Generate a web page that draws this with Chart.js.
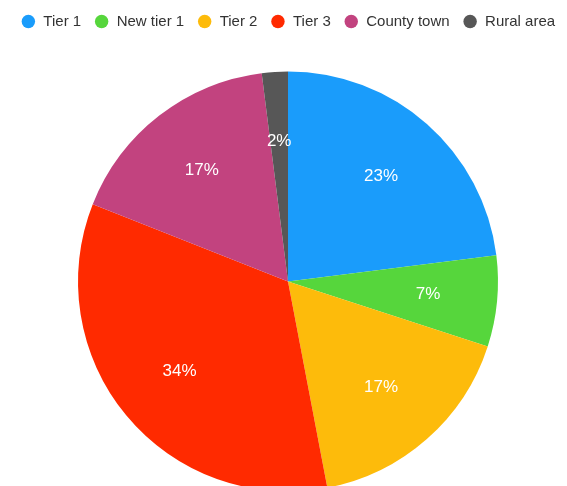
<!DOCTYPE html>
<html>
<head>
<meta charset="utf-8">
<script src="https://cdn.jsdelivr.net/npm/chart.js@4/dist/chart.umd.min.js"></script>
<style>
  html, body { margin: 0; padding: 0; background: #fff; overflow: hidden; }
  #wrap { width: 576px; height: 540px; position: relative; }
</style>
</head>
<body>
<div id="wrap"><canvas id="pie-chart"></canvas></div>
<script>
const categories = ["Tier 1", "New tier 1", "Tier 2", "Tier 3", "County town", "Rural area"];
const shares = [23, 7, 17, 34, 17, 2];
const sliceColors = ["#1a9cfb", "#56d63c", "#fdbb0b", "#ff2a00", "#c2437f", "#575757"];

const percentLabels = {
  id: "percentLabels",
  afterDatasetsDraw(chart) {
    const ctx = chart.ctx;
    const meta = chart.getDatasetMeta(0);
    ctx.save();
    ctx.fillStyle = "#ffffff";
    ctx.font = "17px 'Liberation Sans', Arial, sans-serif";
    ctx.textAlign = "center";
    ctx.textBaseline = "middle";
    meta.data.forEach((arc, i) => {
      const p = arc.getProps(["x", "y", "startAngle", "endAngle", "outerRadius"]);
      const mid = (p.startAngle + p.endAngle) / 2;
      const r = p.outerRadius * 0.67;
      ctx.fillText(shares[i] + "%", p.x + Math.cos(mid) * r, p.y + Math.sin(mid) * r);
    });
    ctx.restore();
  },
};

new Chart(document.getElementById("pie-chart"), {
  type: "pie",
  data: {
    labels: categories,
    datasets: [
      {
        data: shares,
        backgroundColor: sliceColors,
        borderWidth: 0,
      },
    ],
  },
  options: {
    responsive: true,
    maintainAspectRatio: false,
    animation: false,
    radius: 210,
    layout: {
      padding: { left: 0, right: 0, top: 1, bottom: 16 },
    },
    plugins: {
      legend: {
        position: "top",
        labels: {
          usePointStyle: true,
          pointStyle: "circle",
          boxWidth: 15,
          boxHeight: 9.5,
          padding: 13,
          color: "#333333",
          font: { family: "'Liberation Sans', Arial, sans-serif", size: 15 },
        },
      },
      tooltip: { enabled: false },
    },
  },
  plugins: [percentLabels],
});
</script>
</body>
</html>
